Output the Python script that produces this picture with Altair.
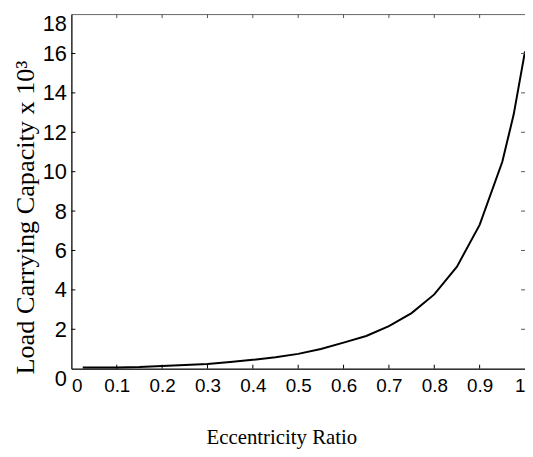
import altair as alt
import pandas as pd

# Data
ecc = [0.025, 0.05, 0.1, 0.15, 0.2, 0.25, 0.3, 0.35, 0.4, 0.45, 0.5, 0.55,
       0.6, 0.65, 0.7, 0.75, 0.8, 0.85, 0.9, 0.95, 0.975, 1.0]
load = [0.06, 0.06, 0.06, 0.08, 0.14, 0.19, 0.24, 0.34, 0.45, 0.58, 0.75, 1.0,
        1.32, 1.66, 2.16, 2.82, 3.77, 5.18, 7.3, 10.5, 12.9, 16.1]
x_ticks = [0.1, 0.2, 0.3, 0.4, 0.5, 0.6, 0.7, 0.8, 0.9]
y_ticks = [2, 4, 6, 8, 10, 12, 14, 16]
x_tick_labels = [0, 0.1, 0.2, 0.3, 0.4, 0.5, 0.6, 0.7, 0.8, 0.9, 1]
y_tick_labels = [0, 2, 4, 6, 8, 10, 12, 14, 16, 18]

W, H = 458, 358

curve = pd.DataFrame({"e": ecc, "w": load})
xt = pd.DataFrame({"e": x_ticks})
yt = pd.DataFrame({"w": y_ticks})

xscale = alt.Scale(domain=[0, 1], nice=False, zero=False)
yscale = alt.Scale(domain=[0, 18], nice=False)

xaxis = alt.Axis(
    values=x_tick_labels, format="~g", title="Eccentricity Ratio", grid=False,
    ticks=False, tickSize=0, labelFlush=True,
    labelFont="Liberation Sans", labelFontSize=19, labelColor="black",
    labelPadding=8, domain=True, domainColor="black", domainWidth=1,
    titleFont="Liberation Serif", titleFontSize=21, titleFontWeight="normal",
    titleColor="black", titleBaseline="alphabetic", titleX=212, titleY=76,
)
yaxis = alt.Axis(
    values=y_tick_labels, format="~g", title="Load Carrying Capacity x 10³",
    grid=False, ticks=False, tickSize=0, labelFlush=False,
    labelFont="Liberation Sans", labelFontSize=22, labelColor="black",
    labelPadding=5, domain=True, domainColor="black", domainWidth=1,
    labelBaseline={"condition": {"test": "datum.value == 0 || datum.value == 18",
                                 "value": "top"}, "value": "middle"},
    titleFont="Liberation Serif", titleFontSize=26.5, titleFontWeight="normal",
    titleColor="black", titleBaseline="alphabetic", titleX=-38, titleY=205,
    titleAngle=270,
)

X = alt.X("e:Q", scale=xscale, axis=xaxis)
Y = alt.Y("w:Q", scale=yscale, axis=yaxis)

line = alt.Chart(curve).mark_line(color="black", strokeWidth=2).encode(x=X, y=Y)

tick_bottom = alt.Chart(xt).mark_rule(color="black", strokeWidth=1).encode(
    x=X, y=alt.value(H), y2=alt.value(H - 4))
tick_top = alt.Chart(xt).mark_rule(color="#555", strokeWidth=1).encode(
    x=X, y=alt.value(0), y2=alt.value(4))
tick_left = alt.Chart(yt).mark_rule(color="black", strokeWidth=1).encode(
    y=Y, x=alt.value(0), x2=alt.value(4))
tick_right = alt.Chart(yt).mark_rule(color="#555", strokeWidth=1).encode(
    y=Y, x=alt.value(W), x2=alt.value(W - 4))

chart = alt.layer(line, tick_bottom, tick_top, tick_left, tick_right).properties(
    width=W, height=H,
    autosize=alt.AutoSizeParams(type="none"),
    padding={"left": 64, "top": 4, "right": 0, "bottom": 83},
    background="white",
).configure_view(stroke="#666", strokeWidth=1)

chart.save("out.html", embed_options={"renderer": "svg", "actions": False})
